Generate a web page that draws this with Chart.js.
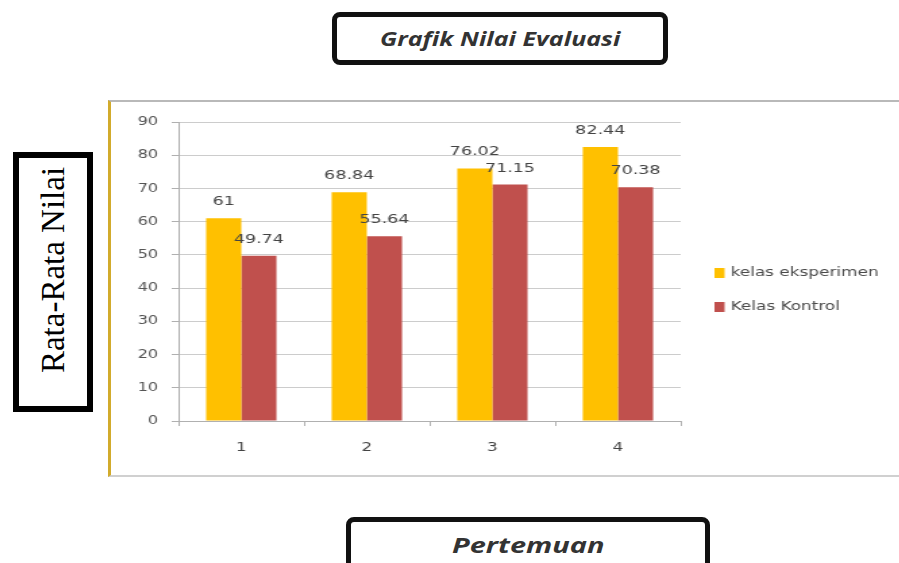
<!DOCTYPE html>
<html>
<head>
<meta charset="utf-8">
<script src="https://cdn.jsdelivr.net/npm/chart.js@4/dist/chart.umd.min.js"></script>
<style>
  html, body { margin: 0; padding: 0; background: #fff; }
  body { width: 899px; height: 563px; position: relative; overflow: hidden; }
  .box { position: absolute; box-sizing: border-box; background: #fff; }
  .wide { display: inline-block; white-space: nowrap; transform-origin: center; }
  #title {
    left: 332px; top: 12px; width: 336px; height: 53px;
    border: 5px solid #111; border-radius: 8px;
    font: italic 700 20px "Open Sans", "DejaVu Sans", sans-serif; color: #333;
    display: flex; align-items: center; justify-content: center;
  }
  #title .wide { transform: scaleX(1.25); }
  #xtitle {
    left: 346px; top: 517px; width: 364px; height: 60px;
    border: 5px solid #111; border-radius: 8px;
    font: italic 700 21px "Open Sans", "DejaVu Sans", sans-serif; color: #333;
    display: flex; align-items: flex-start; justify-content: center; padding-top: 9px;
  }
  #xtitle .wide { transform: scaleX(1.38); }
  #ytitle {
    left: 13px; top: 152px; width: 80px; height: 260px;
    border: 6px solid #000;
  }
  #ytitle span {
    position: absolute; left: 50%; top: 45%;
    transform: translate(-50%, -50%) rotate(-90deg);
    white-space: nowrap;
    font: 33px "Liberation Serif", "Times New Roman", serif; color: #000;
  }
  #frame {
    position: absolute; left: 108px; top: 100px; width: 791px; height: 377px;
    box-sizing: border-box; overflow: hidden;
    border-left: 3px solid #d2ab2c; border-top: 2px solid #b9b9b9; border-bottom: 2px solid #d0d0d0;
  }
  /* the chart is drawn narrow and widened, giving its lettering a broad look */
  #stretch { transform: scaleX(1.35); transform-origin: 0 0; width: 584px; height: 373px; }
  #stretch canvas { display: block; }
</style>
</head>
<body>
<div id="title" class="box"><span class="wide">Grafik Nilai Evaluasi</span></div>
<div id="ytitle" class="box"><span>Rata-Rata Nilai</span></div>
<div id="frame"><div id="stretch"><canvas id="c" width="584" height="373"></canvas></div></div>
<div id="xtitle" class="box"><span class="wide">Pertemuan</span></div>
<script>
// meeting numbers on the x axis
const categories = ['1', '2', '3', '4'];
// average evaluation scores per class
const eksperimen = [61, 68.84, 76.02, 82.44];
const kontrol = [49.74, 55.64, 71.15, 70.38];
const seriesNames = ['kelas eksperimen', 'Kelas Kontrol'];
const yTicks = [0, 10, 20, 30, 40, 50, 60, 70, 80, 90];

const fontFamily = '"DejaVu Sans", Verdana, sans-serif';

// value labels above every bar
const valueLabels = {
  id: 'valueLabels',
  afterDatasetsDraw(chart) {
    const ctx = chart.ctx;
    ctx.save();
    ctx.font = '13px ' + fontFamily;
    ctx.fillStyle = '#444';
    ctx.textAlign = 'center';
    ctx.textBaseline = 'alphabetic';
    chart.data.datasets.forEach((ds, i) => {
      chart.getDatasetMeta(i).data.forEach((bar, j) => {
        ctx.fillText(String(ds.data[j]), bar.x, bar.y - 13);
      });
    });
    ctx.restore();
  }
};

// legend on the right, one entry per series
const sideLegend = {
  id: 'sideLegend',
  afterDraw(chart) {
    const ctx = chart.ctx;
    ctx.save();
    ctx.font = '12.5px ' + fontFamily;
    ctx.textBaseline = 'middle';
    chart.data.datasets.forEach((ds, i) => {
      const x = chart.chartArea.right + 25;
      const y = 171 + i * 34;
      ctx.fillStyle = ds.backgroundColor;
      ctx.fillRect(x, y - 5, 7.5, 10);
      ctx.fillStyle = '#4a4a4a';
      ctx.fillText(ds.label, x + 12, y);
    });
    ctx.restore();
  }
};

new Chart(document.getElementById('c'), {
  type: 'bar',
  data: {
    labels: categories,
    datasets: [
      { label: seriesNames[0], data: eksperimen, backgroundColor: '#ffc000' },
      { label: seriesNames[1], data: kontrol, backgroundColor: '#c0504d' }
    ]
  },
  options: {
    responsive: false,
    animation: false,
    devicePixelRatio: 1,
    layout: { padding: { left: 0, top: 20, right: 162, bottom: 0 } },
    datasets: { bar: { categoryPercentage: 0.56, barPercentage: 1.0 } },
    plugins: { legend: { display: false }, tooltip: { enabled: false } },
    scales: {
      x: {
        grid: { display: true, drawOnChartArea: false, offset: true, tickLength: 5, color: '#b0b0b0' },
        border: { color: '#b0b0b0' },
        ticks: { padding: 14, color: '#444', font: { family: fontFamily, size: 12.5 } },
        afterFit(s) { s.height = 54; }
      },
      y: {
        min: 0, max: 90,
        afterBuildTicks(s) { s.ticks = yTicks.map(v => ({ value: v })); },
        grid: { color: '#cccccc', tickLength: 5, tickColor: '#b0b0b0' },
        border: { color: '#b0b0b0' },
        ticks: { padding: 10, color: '#555', font: { family: fontFamily, size: 12 } },
        afterFit(s) { s.width = 50; }
      }
    }
  },
  plugins: [valueLabels, sideLegend]
});
</script>
</body>
</html>
